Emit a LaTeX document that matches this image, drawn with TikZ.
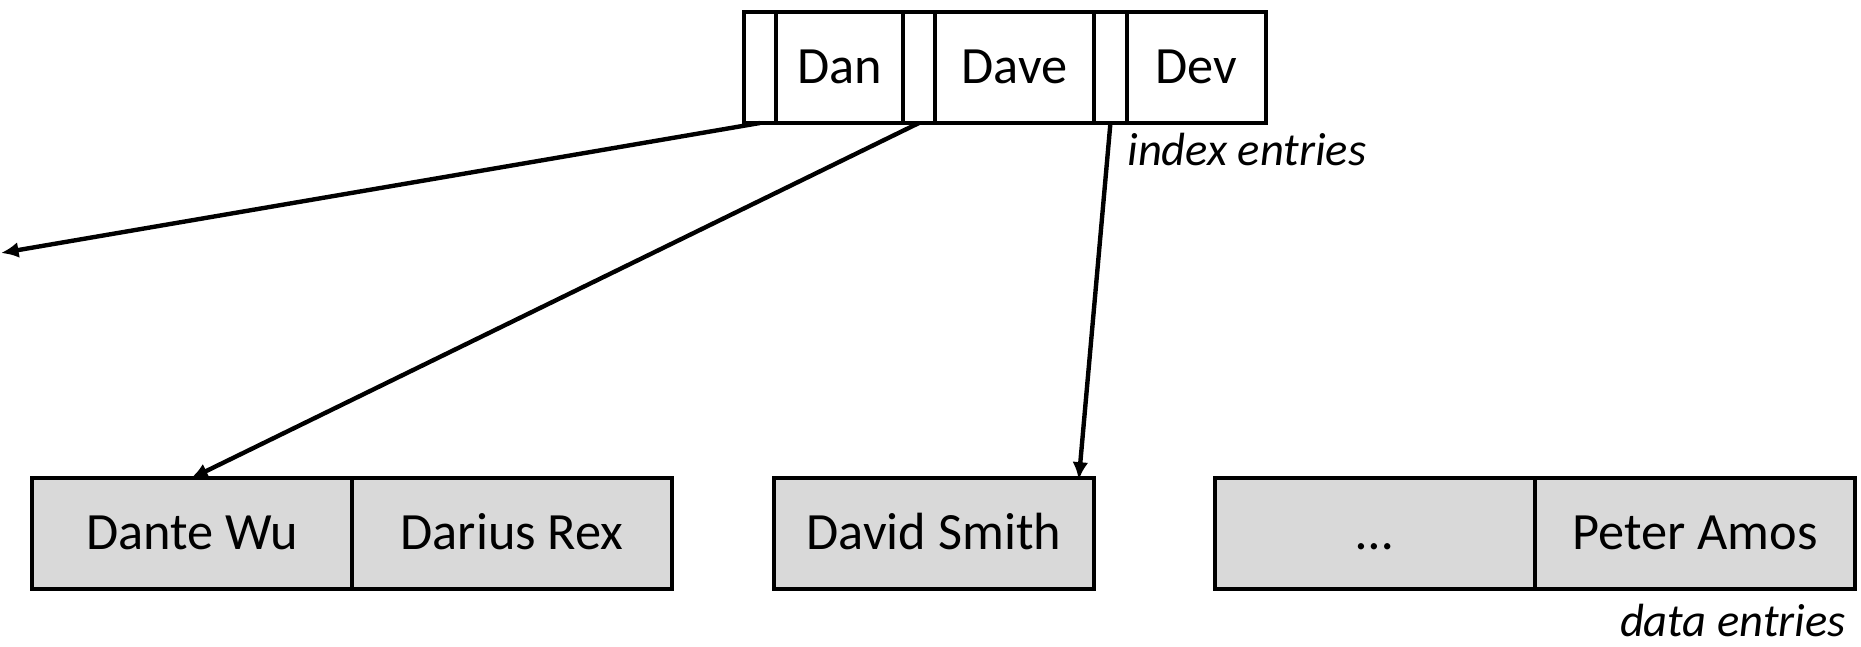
\documentclass[tikz,border=0pt]{standalone}
\usepackage{fontspec}
\setmainfont{Carlito}
\usetikzlibrary{arrows.meta,positioning}
\definecolor{dbink}{HTML}{000000}
\definecolor{dbgray}{HTML}{D9D9D9}

\begin{document}
\begin{tikzpicture}[
  x=0.02cm,y=-0.02cm,
  cellNode/.style={rectangle,draw=dbink,line width=2.6pt,outer sep=0pt,inner sep=0pt,
    minimum height=2.22cm,text height=18.7pt,text depth=0pt,
    font=\fontsize{29.8}{36}\selectfont},
  ptrCell/.style={cellNode,minimum width=0.64cm},
  keyCell/.style={cellNode,minimum width=#1},
  dataCell/.style={cellNode,fill=dbgray,minimum width=6.4cm},
  noteText/.style={font=\fontsize{26.5}{32}\selectfont\itshape,inner sep=0pt},
  link/.style={->,draw=dbink,line width=2.5pt},
  >={Latex[length=10pt,width=9pt]}
]
\useasboundingbox (0,0) rectangle (1861,646);

% index node
\node[ptrCell,anchor=north west] (p1) at (744,12) {};
\node[keyCell=2.54cm,right=0pt of p1] (dan) {Dan};
\node[ptrCell,right=0pt of dan] (p2) {};
\node[keyCell=3.18cm,right=0pt of p2] (dave) {Dave};
\node[ptrCell,minimum width=0.66cm,right=0pt of dave] (p3) {};
\node[keyCell=2.78cm,right=0pt of p3] (dev) {Dev};
\node[noteText,anchor=base west] (idxNote) at (1127,165) {index entries};

% data pages
\node[dataCell,anchor=north west] (dante) at (32,478) {Dante Wu};
\node[dataCell,right=0pt of dante] (darius) {Darius Rex};
\node[dataCell,anchor=north west] (david) at (774,478) {David Smith};
\node[dataCell,anchor=north west] (dots) at (1215,478) {…};
\node[dataCell,right=0pt of dots] (peter) {Peter Amos};
\node[noteText,anchor=base east] (dataNote) at (1846,636) {data entries};

% pointers
\coordinate (offLeft) at (1,253);
\draw[link] (p1.south) -- (offLeft);
\draw[link,shorten >=-1pt] (p2.south) -- (dante.north);
\draw[link,shorten >=-1pt] (p3.south) -- ([xshift=-0.3cm]david.north east);
\end{tikzpicture}
\end{document}
